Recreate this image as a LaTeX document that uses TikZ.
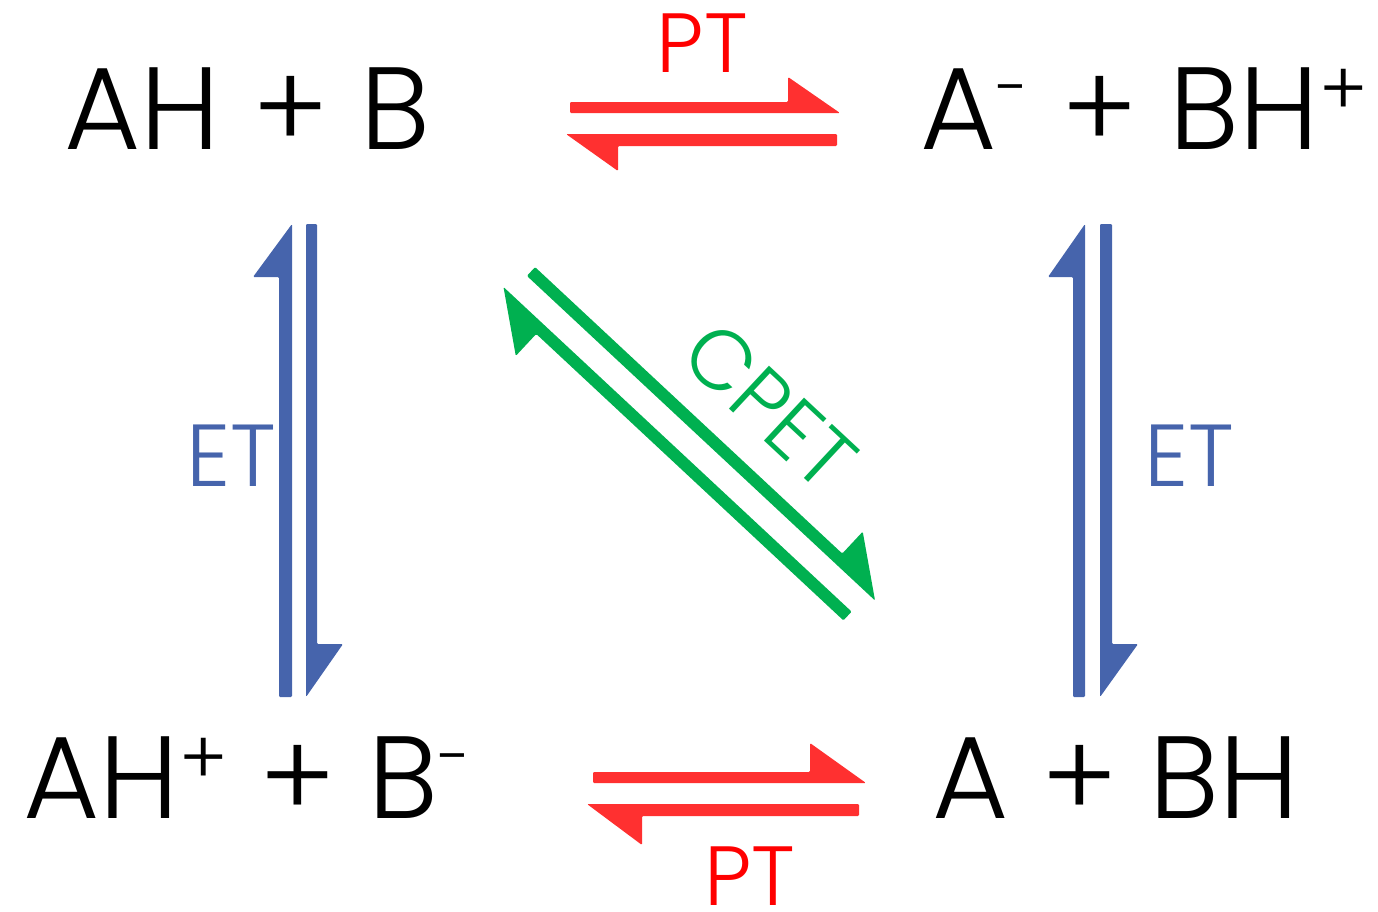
\documentclass[tikz,border=0pt]{standalone}
\usepackage{fontspec}
\IfFontExistsTF{Poppins Light}{\setmainfont{Poppins Light}}{\setmainfont{Poppins}}
\definecolor{ptred}{RGB}{255,0,0}
\definecolor{arred}{RGB}{255,48,48}
\definecolor{etblue}{RGB}{70,100,172}
\definecolor{cgreen}{RGB}{0,176,80}
\newcommand\supplus{\raisebox{34pt}{\fontsize{74}{76}\selectfont +}}
\newcommand\supminus{\raisebox{40pt}{\fontsize{62}{64}\selectfont -}}
\tikzset{
  species/.style={inner sep=0pt, anchor=base, font=\fontsize{117}{120}\selectfont},
  label/.style={inner sep=0pt, anchor=base, font=\fontsize{84}{90}\selectfont},
  harp/.style={fill=#1, draw=none, rounded corners=1.2pt}
}
\begin{document}
\begin{tikzpicture}[x=1pt,y=-1pt]
\useasboundingbox (0,0) rectangle (1378,911);
% species
\node[species] (tl) at (247.5,149) {AH + B};
\node[species] (tr) at (1144,149) {A\supminus{} + BH\supplus};
\node[species] (bl) at (247,818) {AH\supplus{} + B\supminus};
\node[species] (br) at (1116,818) {A + BH};
% labels
\node[label, text=ptred] (pt1) at (702.5,72) {PT};
\node[label, text=ptred] (pt2) at (750,905) {PT};
\node[label, text=etblue, font=\fontsize{88}{90}\selectfont] (et1) at (231.5,486) {ET};
\node[label, text=etblue, font=\fontsize{88}{90}\selectfont] (et2) at (1189,486) {ET};
\node[inner sep=0pt, text=cgreen, rotate=-43, font=\fontsize{84}{90}\selectfont] (cpet) at (770,406) {CPET};
% PT arrows (top)
\fill[harp=arred] (570,102) -- (788,102) -- (788,77) -- (840,113) -- (570,113) -- cycle;
\fill[harp=arred] (837,134) -- (566,134) -- (618,171) -- (618,146) -- (837,146) -- cycle;
% PT arrows (bottom)
\fill[harp=arred] (593,772) -- (810,772) -- (810,743) -- (866,783) -- (593,783) -- cycle;
\fill[harp=arred] (859,804) -- (587,804) -- (642,845) -- (642,816) -- (859,816) -- cycle;
% ET arrows (left)
\fill[harp=etblue] (292,224) -- (292,697) -- (279,697) -- (279,277) -- (253,277) -- cycle;
\fill[harp=etblue] (306,224) -- (317,224) -- (317,644) -- (343,644) -- (306,697) -- cycle;
% ET arrows (right)
\fill[harp=etblue] (1085,224) -- (1085,697) -- (1073,697) -- (1073,277) -- (1048,277) -- cycle;
\fill[harp=etblue] (1100,224) -- (1112,224) -- (1112,644) -- (1138,644) -- (1100,697) -- cycle;
% CPET arrows
\begin{scope}[shift={(531,271.5)}, rotate=-43]
\fill[harp=cgreen] (0,-6) -- (420,-6) -- (420,-36) -- (476,6) -- (0,6) -- cycle;
\end{scope}
\begin{scope}[shift={(847.5,616)}, rotate=137]
\fill[harp=cgreen] (0,-6) -- (420,-6) -- (420,-36) -- (476,6) -- (0,6) -- cycle;
\end{scope}
\end{tikzpicture}
\end{document}
